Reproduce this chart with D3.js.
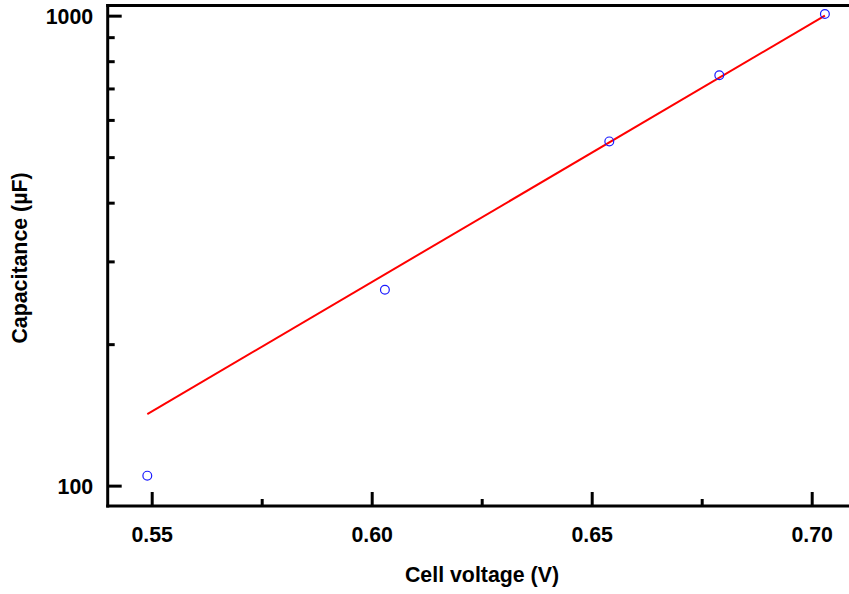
<!DOCTYPE html>
<html>
<head>
<meta charset="utf-8">
<script src="https://cdn.jsdelivr.net/npm/d3@7/dist/d3.min.js"></script>
<style>
  html, body { margin: 0; padding: 0; background: #fff; }
  svg { display: block; font-family: "Liberation Sans", Arial, sans-serif; }
</style>
</head>
<body>
<svg id="chart" width="849" height="594"></svg>
<script>
// Measured capacitance vs. cell voltage
const cellVoltage = [0.549, 0.603, 0.654, 0.679, 0.703];
const capacitance = [105, 261, 540, 747, 1008];

// Exponential fit (straight on the log axis), end points
const fitVoltage = [0.549, 0.703];
const fitCapacitance = [142, 1000];

// Axis ticks
const xMajorTicks = [0.55, 0.60, 0.65, 0.70];
const xMinorTicks = [0.575, 0.625, 0.675];
const yMajorTicks = [100, 1000];
const yMinorTicks = [200, 300, 400, 500, 600, 700, 800, 900];

const xDomain = [0.54, 0.71];
const yDomain = [90.5, 1051];

const FONT_SIZE = "21.33px";

const svg = d3.select("#chart");
const plotLeft = 107.7, plotRight = 855.7, plotTop = 5.5, plotBottom = 506;

const x = d3.scaleLinear().domain(xDomain).range([plotLeft, plotRight]);
const y = d3.scaleLog().domain(yDomain).range([plotBottom, plotTop]);

svg.append("defs").append("clipPath").attr("id", "clip")
  .append("rect")
  .attr("x", plotLeft).attr("y", plotTop)
  .attr("width", plotRight - plotLeft).attr("height", plotBottom - plotTop);

const plot = svg.append("g");

// Fit line
const line = d3.line().x((d, i) => x(fitVoltage[i])).y(d => y(d));
plot.append("path")
  .datum(fitCapacitance)
  .attr("clip-path", "url(#clip)")
  .attr("d", line)
  .attr("fill", "none")
  .attr("stroke", "#ff0000")
  .attr("stroke-width", 2);

// Data points
plot.selectAll("circle.pt")
  .data(capacitance)
  .join("circle")
  .attr("class", "pt")
  .attr("cx", (d, i) => x(cellVoltage[i]))
  .attr("cy", d => y(d))
  .attr("r", 4.4)
  .attr("fill", "none")
  .attr("stroke", "#1a1aff")
  .attr("stroke-width", 1.2);

function styleAxis(g) {
  g.selectAll("path.domain").attr("stroke", "#000").attr("stroke-width", 3);
  g.selectAll(".tick line").attr("stroke", "#000").attr("stroke-width", 3);
  g.selectAll(".tick text")
    .attr("fill", "#000")
    .style("font-size", FONT_SIZE)
    .style("font-weight", "bold");
}

// Bottom axis: inward ticks
const gxMinor = svg.append("g").attr("transform", `translate(0,${plotBottom})`)
  .call(d3.axisBottom(x).tickValues(xMinorTicks).tickSize(-7).tickFormat(""));
gxMinor.select("path.domain").remove();
styleAxis(gxMinor);

const gx = svg.append("g").attr("transform", `translate(0,${plotBottom})`)
  .call(d3.axisBottom(x).tickValues(xMajorTicks).tickSize(-14).tickPadding(21)
    .tickFormat(d3.format(".2f")).tickSizeOuter(0));
gx.select("path.domain").attr("d", `M${plotLeft - 1.5},0H849`);
styleAxis(gx);

// Left axis: inward ticks
const gyMinor = svg.append("g").attr("transform", `translate(${plotLeft},0)`)
  .call(d3.axisLeft(y).tickValues(yMinorTicks).tickSize(-7).tickFormat(""));
gyMinor.select("path.domain").remove();
styleAxis(gyMinor);

const gy = svg.append("g").attr("transform", `translate(${plotLeft},0)`)
  .call(d3.axisLeft(y).tickValues(yMajorTicks).tickSize(-14).tickPadding(14.5)
    .tickFormat(d3.format("d")).tickSizeOuter(0));
gy.select("path.domain").attr("d", `M0,${plotTop - 1.5}V${plotBottom + 1.5}`);
styleAxis(gy);
gy.selectAll(".tick text").attr("dy", "0.36em");

// Top frame line
svg.append("line")
  .attr("x1", plotLeft - 1.5).attr("x2", 849)
  .attr("y1", plotTop).attr("y2", plotTop)
  .attr("stroke", "#000").attr("stroke-width", 3);

// Axis titles
svg.append("text")
  .attr("x", 482).attr("y", 582)
  .attr("text-anchor", "middle")
  .style("font-size", FONT_SIZE).style("font-weight", "bold")
  .text("Cell voltage (V)");

svg.append("text")
  .attr("transform", "translate(27,258) rotate(-90)")
  .attr("text-anchor", "middle")
  .style("font-size", FONT_SIZE).style("font-weight", "bold")
  .text("Capacitance (µF)");
</script>
</body>
</html>
